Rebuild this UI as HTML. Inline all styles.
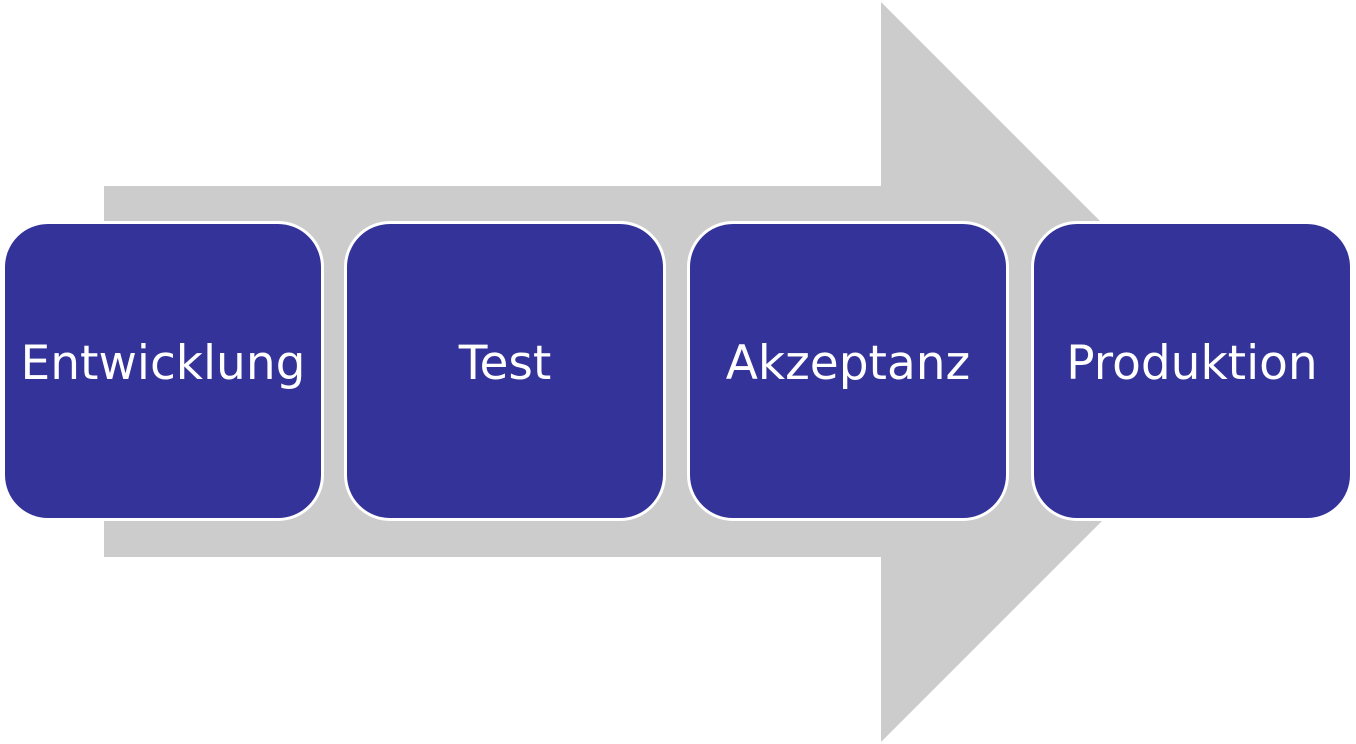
<!DOCTYPE html>
<html><head><style>
body{margin:0;width:1356px;height:744px;background:#fff;position:relative;overflow:hidden;font-family:"DejaVu Sans","Liberation Sans",sans-serif}
.b{position:absolute;top:221px;width:316px;height:294px;background:#343399;border:3px solid #fff;border-radius:46px;color:#fff;font-size:47px;display:flex;align-items:center;justify-content:center;box-sizing:content-box}
.b span{position:relative;top:-8px}
</style></head><body>
<svg width="1356" height="744" style="position:absolute;left:0;top:0">
<polygon points="104,186 881,186 881,2 1251,372 881,742 881,557 104,557" fill="#cccccc"/>
</svg>
<div class="b" style="left:2px"><span>Entwicklung</span></div>
<div class="b" style="left:344px"><span>Test</span></div>
<div class="b" style="left:687px"><span>Akzeptanz</span></div>
<div class="b" style="left:1031px"><span>Produktion</span></div>
</body></html>
